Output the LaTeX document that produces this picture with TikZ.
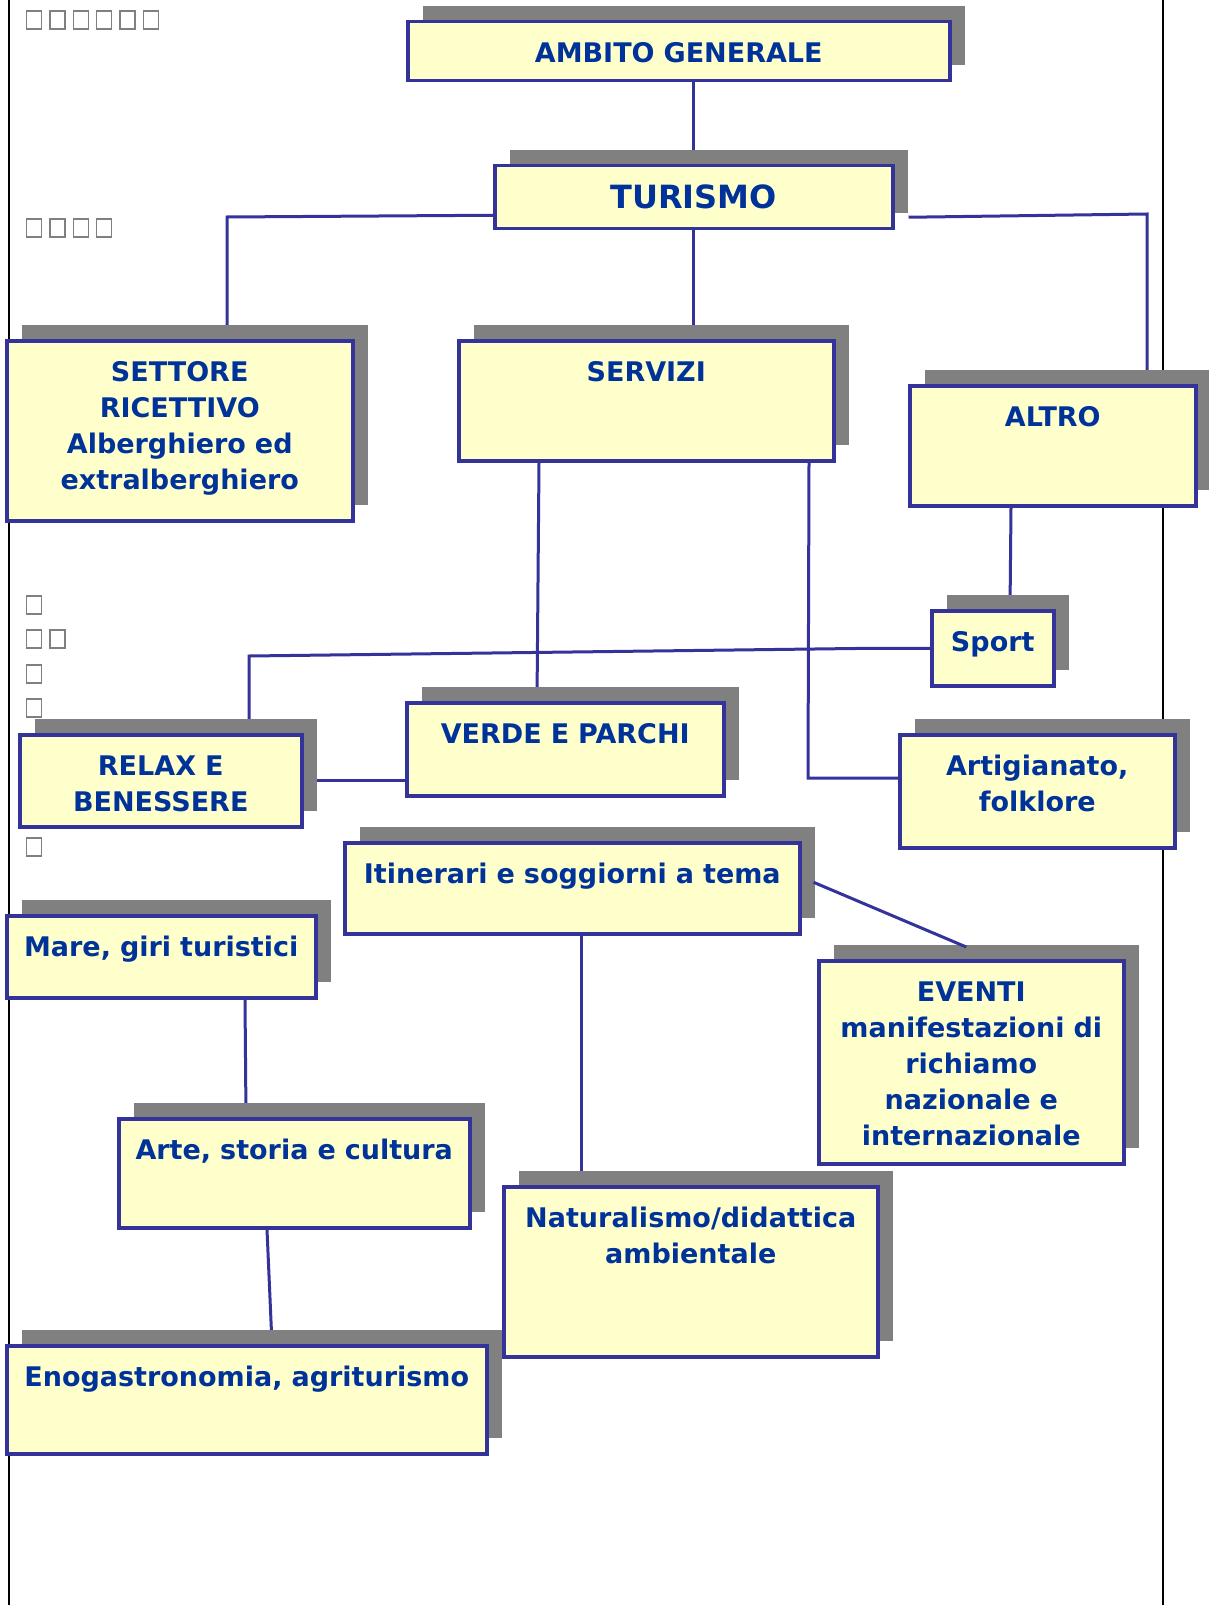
\documentclass[tikz,border=0pt]{standalone}
\usepackage{fontspec}
\newfontfamily\boxfont{DejaVu Sans}
\usetikzlibrary{positioning,shadows,backgrounds}
\definecolor{boxblue}{HTML}{333399}
\definecolor{textblue}{HTML}{003399}
\definecolor{boxfill}{HTML}{FFFFCC}
\definecolor{shadowgray}{HTML}{808080}

\begin{document}
\begin{tikzpicture}[
        x=1pt, y=-1pt,
        every node/.style={font=\boxfont\bfseries\fontsize{27}{36}\selectfont, align=center, text=textblue},
        box/.style={rectangle, draw=boxblue, line width=3.5pt, fill=boxfill, anchor=north west, inner sep=0pt, text height=41pt,
            general shadow={fill=shadowgray, shadow xshift=15pt, shadow yshift=16pt}},
        link/.style={draw=boxblue, line width=3pt},
        frame/.style={draw=black, line width=2.5pt},
        tofu/.style={draw=shadowgray, line width=1.3pt}
    ]
    \useasboundingbox (0,0) rectangle (1208,1605);
    % Boxes
    \node[box, text width=542pt, text depth=18pt] (ambito) at (406,20) {AMBITO GENERALE};
    \node[box, text width=398pt, text height=43pt, text depth=20pt, font=\boxfont\bfseries\fontsize{32}{38}\selectfont] (turismo) at (493,164) {TURISMO};
    \node[box, text width=346pt, text depth=139pt] (settore) at (5,339) {SETTORE\\RICETTIVO\\Alberghiero ed\\extralberghiero};
    \node[box, text width=375pt, text depth=79pt] (servizi) at (457,339) {SERVIZI};
    \node[box, text width=286pt, text depth=79pt] (altro) at (908,384) {ALTRO};
    \node[box, text width=122pt, text depth=34pt] (sport) at (930,609) {Sport};
    \node[box, text width=282pt, text depth=51pt] (relax) at (18,733) {RELAX E\\BENESSERE};
    \node[box, text width=317pt, text depth=52pt] (verde) at (405,701) {VERDE E PARCHI};
    \node[box, text width=275pt, text depth=72pt] (artig) at (898,733) {Artigianato,\\folklore};
    \node[box, text width=455pt, text depth=50pt] (itin) at (343,841) {Itinerari e soggiorni a tema};
    \node[box, text width=309pt, text depth=41pt] (mare) at (5,914) {Mare, giri turistici};
    \node[box, text width=305pt, text depth=162pt] (eventi) at (817,959) {EVENTI\\manifestazioni di\\richiamo\\nazionale e\\internazionale};
    \node[box, text width=351pt, text depth=68pt] (arte) at (117,1117) {Arte, storia e cultura};
    \node[box, text width=374pt, text depth=129pt] (natur) at (502,1185) {Naturalismo/didattica\\ambientale};
    \node[box, text width=480pt, text depth=67pt] (eno) at (5,1344) {Enogastronomia, agriturismo};
    % Empty glyph squares
    \foreach \i in {0,...,5}
        \draw[tofu] (26.7+23.3*\i,11) rectangle ++(15,18);
    \foreach \i in {0,...,3}
        \draw[tofu] (26.7+23.3*\i,219) rectangle ++(15,18);
    \foreach \y in {596,630,665,699,838}
        \draw[tofu] (26.7,\y) rectangle ++(15,18);
    \draw[tofu] (50,630) rectangle ++(15,18);
    % Lines
    \draw[link] ([xshift=12pt,yshift=6pt]itin.east) -- ([xshift=-5pt,yshift=12pt]eventi.north);
    \begin{scope}[on background layer]
    \draw[frame] (9,0) -- (9,1605);
    \draw[frame] (1163,0) -- (1163,1605);
    \draw[link] (ambito.south -| turismo.north) -- (turismo.north);
    \draw[link] ([yshift=-18pt]turismo.west) -- (227,217) -- (227,0 |- settore.north);
    \draw[link] ([xshift=14pt,yshift=-20pt]turismo.east) -- (1147,214) -- (1147,0 |- altro.north);
    \draw[link] (turismo.south) -- (turismo.south |- servizi.north);
    \draw[link] (539,0 |- servizi.south) -- (537,0 |- verde.north);
    \draw[link] (809,0 |- servizi.south) -- (808,778) -- (808,778 -| artig.west);
    \draw[link] (1011,0 |- altro.south) -- (1010,0 |- sport.north);
    \draw[link] (sport.west) -- (875,0 |- sport.west) -- (249,656) -- (249,0 |- relax.north);
    \draw[link] (relax.east) -- (relax.east -| verde.west);
    \draw[link] (581,0 |- itin.south) -- (581,0 |- natur.north);
    \draw[link] (245,0 |- mare.south) -- (246,0 |- arte.north);
    \draw[link] (267,0 |- arte.south) -- (272,0 |- eno.north);
    \end{scope}
\end{tikzpicture}
\end{document}
